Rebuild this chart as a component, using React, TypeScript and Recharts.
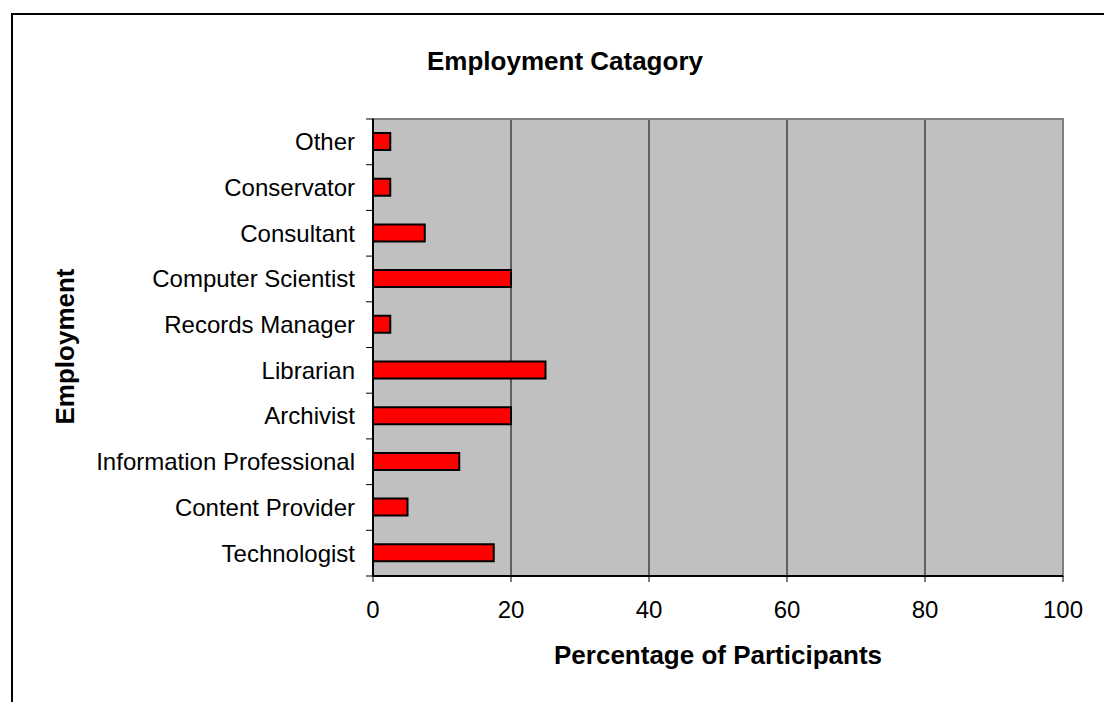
import React from 'react';
import { BarChart, Bar, XAxis, YAxis, CartesianGrid, ReferenceArea } from 'recharts';

const categories = [
  'Other',
  'Conservator',
  'Consultant',
  'Computer Scientist',
  'Records Manager',
  'Librarian',
  'Archivist',
  'Information Professional',
  'Content Provider',
  'Technologist',
];
const percentages = [2.5, 2.5, 7.5, 20, 2.5, 25, 20, 12.5, 5, 17.5];
const xTicks = [0, 20, 40, 60, 80, 100];

const data = categories.map((name, i) => ({ name, value: percentages[i] }));

const FONT = '"Liberation Sans", Arial, sans-serif';
const W = 1104;
const H = 702;
const PLOT_LEFT = 373;
const PLOT_TOP = 119;
const PLOT_BOTTOM = 576;
const PLOT_RIGHT = 1063;
const BAND = (PLOT_BOTTOM - PLOT_TOP) / categories.length;

// Excel style: tick marks sit between categories, labels in the middle
const CatTick = (props: any) => {
  const { y, payload, index } = props;
  const half = BAND / 2;
  return (
    <g>
      <line x1={PLOT_LEFT - 7} x2={PLOT_LEFT} y1={y - half} y2={y - half} stroke="#000" />
      {index === categories.length - 1 && (
        <line x1={PLOT_LEFT - 7} x2={PLOT_LEFT} y1={y + half} y2={y + half} stroke="#000" />
      )}
      <text x={355} y={y} dy="0.35em" textAnchor="end" fontSize={24} fill="#000" fontFamily={FONT}>
        {payload.value}
      </text>
    </g>
  );
};

export default function App() {
  return (
    <div style={{ position: 'absolute', left: 0, top: 0, width: W, height: H, overflow: 'hidden', background: '#fff' }}>
      <div
        style={{
          position: 'absolute',
          left: 11,
          top: 13,
          width: 1200,
          height: 900,
          border: '2px solid #000',
        }}
      />
      <div style={{ position: 'absolute', left: 0, top: 0 }}>
        <BarChart
          width={W}
          height={H}
          data={data}
          layout="vertical"
          margin={{ top: PLOT_TOP, right: W - PLOT_RIGHT, bottom: H - PLOT_BOTTOM - 60, left: 0 }}
        >
          <CartesianGrid horizontal={false} stroke="#000" fill="#C0C0C0" fillOpacity={1} />
          <ReferenceArea x1={0} x2={100} fill="none" stroke="#808080" strokeWidth={2} ifOverflow="visible" />
          <XAxis
            type="number"
            domain={[0, 100]}
            ticks={xTicks}
            interval={0}
            height={60}
            tickSize={6}
            tickMargin={19}
            tick={{ fontSize: 24, fill: '#000', fontFamily: FONT }}
            tickLine={{ stroke: '#000' }}
            axisLine={{ stroke: '#000', strokeWidth: 2 }}
          />
          <YAxis
            type="category"
            dataKey="name"
            width={PLOT_LEFT}
            interval={0}
            tickLine={false}
            tick={(p: any) => <CatTick {...p} />}
            axisLine={{ stroke: '#000', strokeWidth: 2 }}
          />
          <Bar dataKey="value" fill="#FF0000" stroke="#000" strokeWidth={2} barSize={17} isAnimationActive={false} />
        </BarChart>
      </div>
      <svg width={W} height={H} style={{ position: 'absolute', left: 0, top: 0, pointerEvents: 'none' }}>
        <text x={565} y={70} textAnchor="middle" fontSize={26} fontWeight="bold" fontFamily={FONT} fill="#000">
          Employment Catagory
        </text>
        <text x={718} y={664} textAnchor="middle" fontSize={26} fontWeight="bold" fontFamily={FONT} fill="#000">
          Percentage of Participants
        </text>
        <text
          transform="translate(73.5,346.5) rotate(-90)"
          textAnchor="middle"
          fontSize={26}
          fontWeight="bold"
          fontFamily={FONT}
          fill="#000"
        >
          Employment
        </text>
      </svg>
    </div>
  );
}
